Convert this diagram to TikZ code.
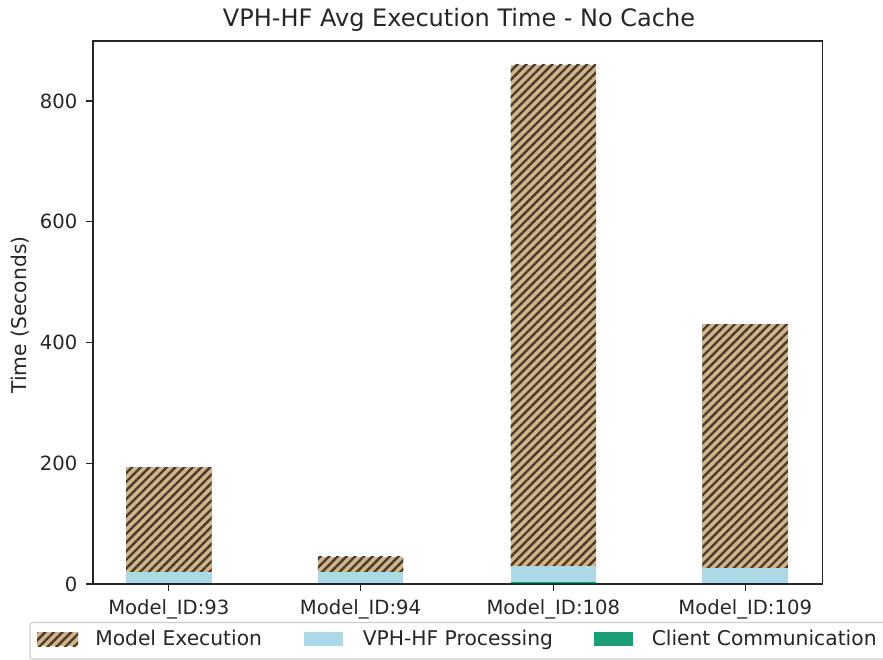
\documentclass[tikz,border=0pt]{standalone}
\usepackage{fontspec}
\setmainfont{DejaVu Sans}
\usetikzlibrary{patterns.meta}

\definecolor{tanfill}{HTML}{D2B48C}
\definecolor{hatchc}{HTML}{4A3B2A}
\definecolor{procblue}{HTML}{ADD8E6}
\definecolor{commgreen}{HTML}{1B9E77}
\definecolor{ink}{HTML}{262626}
\definecolor{legframe}{HTML}{CCCCCC}

\tikzset{
  ticklab/.style={font=\fontsize{14.7}{17}\selectfont, text=ink, inner sep=0pt},
  leglab/.style={font=\fontsize{15.2}{18}\selectfont, text=ink, inner sep=0pt},
  titlelab/.style={font=\fontsize{18}{21}\selectfont, text=ink, inner sep=0pt},
  axisframe/.style={draw=ink, line width=1.1pt},
  tickmark/.style={draw=ink, line width=1pt},
  hatched/.style={pattern={Lines[angle=45,distance=4.6pt,line width=1.8pt]}, pattern color=hatchc},
  execbar/.style={fill=tanfill, postaction={hatched}},
  procbar/.style={fill=procblue},
  commbar/.style={fill=commgreen},
  legbox/.style={draw=legframe, line width=0.8pt, rounded corners=2pt, fill=white},
}

\begin{document}
\begin{tikzpicture}[x=0.75pt, y=-0.75pt]
\useasboundingbox (0,0) rectangle (883,660);
\clip (0,0) rectangle (883,660);

% bars: centre / client communication / cumulative processing / total
\foreach \c/\cm/\pr/\tot/\lab [count=\i] in
  {168.8/0/19.4/193/93, 360.5/0/20.4/45.2/94, 553.3/3.8/29.8/860/108, 745.2/0/26/430/109}{
  \fill[execbar] ({\c-42.75},{584-0.6037*\pr}) rectangle ({\c+42.75},{584-0.6037*\tot});
  \fill[procbar] ({\c-42.75},{584-0.6037*\cm}) rectangle ({\c+42.75},{584-0.6037*\pr});
  \fill[commbar] ({\c-42.75},584) rectangle ({\c+42.75},{584-0.6037*\cm});
  \draw[tickmark] (\c,584) -- (\c,590.5);
  \node[ticklab, anchor=base] (xlab\i) at (\c,614.3) {Model\_ID:\lab};
}

% y ticks
\foreach \v [count=\i] in {0,200,400,600,800}{
  \draw[tickmark] (86,{584-0.6037*\v}) -- (93,{584-0.6037*\v});
  \node[ticklab, anchor=east, text height=10.7pt, text depth=0pt] (ylab\i) at (77.5,{584-0.6037*\v}) {\v};
}

% axes frame
\draw[axisframe] (93,41) rectangle (822.5,584);

% title and axis label
\node[titlelab, anchor=base] (title) at (459,26.7) {VPH-HF Avg Execution Time - No Cache};
\node[leglab, rotate=90, anchor=center] (ylabel) at (20,315) {Time (Seconds)};

% legend
\draw[legbox] (30,622.5) rectangle (900,659);
\fill[tanfill] (37,632) rectangle (78,646);
\fill[hatched] (37,632) rectangle (78,646);
\node[leglab, anchor=base west] (leg1) at (95,645) {Model Execution};
\fill[procblue] (304,632) rectangle (343,646);
\node[leglab, anchor=base west] (leg2) at (362.5,645) {VPH-HF Processing};
\fill[commgreen] (594,632) rectangle (633,646);
\node[leglab, anchor=base west] (leg3) at (651.5,645) {Client Communication};
\end{tikzpicture}
\end{document}
